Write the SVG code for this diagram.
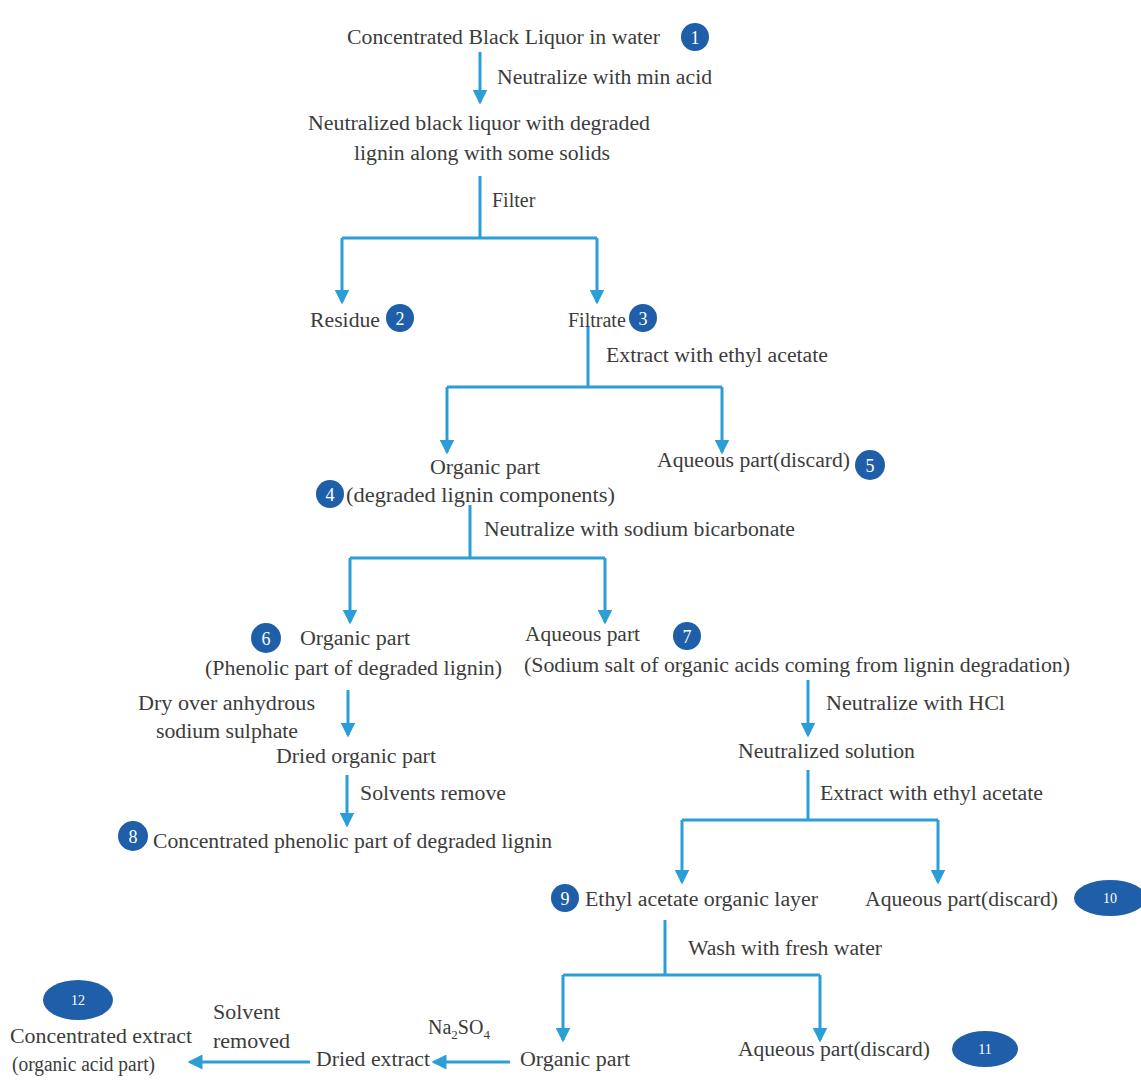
<svg xmlns="http://www.w3.org/2000/svg" width="1141" height="1080" viewBox="0 0 1141 1080">
<style>
text{font-family:"Liberation Serif","Times New Roman",serif;font-size:20px;fill:#3c3c3c}
.c{fill:#1f5ea8}
.n{fill:#ffffff;font-size:18px;text-anchor:middle}
.s{fill:#ffffff;font-size:14px;text-anchor:middle}
.l{fill:none;stroke:#2a9ed6;stroke-width:3}
</style>
<defs>
<marker id="ah" viewBox="0 0 12 12" refX="10" refY="6" markerWidth="5" markerHeight="5" orient="auto" markerUnits="strokeWidth">
<path d="M0,0 L12,6 L0,12 Z" fill="#2a9ed6"/>
</marker>
</defs>
<rect width="1141" height="1080" fill="#ffffff"/>
<g id="connectors">
<path class="l" d="M480,52 V102" marker-end="url(#ah)"/>
<path class="l" d="M480,176 V238 M342,238 H597"/>
<path class="l" d="M342,238 V302" marker-end="url(#ah)"/>
<path class="l" d="M597,238 V302" marker-end="url(#ah)"/>
<path class="l" d="M588,326 V387 M447,387 H722"/>
<path class="l" d="M447,387 V452" marker-end="url(#ah)"/>
<path class="l" d="M722,387 V452" marker-end="url(#ah)"/>
<path class="l" d="M470,505 V558 M350,558 H605"/>
<path class="l" d="M350,558 V622" marker-end="url(#ah)"/>
<path class="l" d="M605,558 V622" marker-end="url(#ah)"/>
<path class="l" d="M348,690 V735" marker-end="url(#ah)"/>
<path class="l" d="M347,775 V825" marker-end="url(#ah)"/>
<path class="l" d="M808,680 V735" marker-end="url(#ah)"/>
<path class="l" d="M808,770 V820 M682,820 H938"/>
<path class="l" d="M682,820 V882" marker-end="url(#ah)"/>
<path class="l" d="M938,820 V882" marker-end="url(#ah)"/>
<path class="l" d="M665,920 V975 M563,975 H820"/>
<path class="l" d="M563,975 V1040" marker-end="url(#ah)"/>
<path class="l" d="M820,975 V1040" marker-end="url(#ah)"/>
<path class="l" d="M510,1062 H434" marker-end="url(#ah)"/>
<path class="l" d="M310,1062 H190" marker-end="url(#ah)"/>
</g>
<g id="labels">
<text x="497" y="84" textLength="215" lengthAdjust="spacingAndGlyphs">Neutralize with min acid</text>
<text x="492" y="207">Filter</text>
<text x="606" y="362" textLength="222" lengthAdjust="spacingAndGlyphs">Extract with ethyl acetate</text>
<text x="484" y="536" textLength="311" lengthAdjust="spacingAndGlyphs">Neutralize with sodium bicarbonate</text>
<text x="138" y="710" textLength="177" lengthAdjust="spacingAndGlyphs">Dry over anhydrous</text>
<text x="156" y="738" textLength="142" lengthAdjust="spacingAndGlyphs">sodium sulphate</text>
<text x="360" y="800" textLength="146" lengthAdjust="spacingAndGlyphs">Solvents remove</text>
<text x="826" y="710" textLength="179" lengthAdjust="spacingAndGlyphs">Neutralize with HCl</text>
<text x="820" y="800" textLength="223" lengthAdjust="spacingAndGlyphs">Extract with ethyl acetate</text>
<text x="688" y="955" textLength="194" lengthAdjust="spacingAndGlyphs">Wash with fresh water</text>
<text x="428" y="1034">Na<tspan font-size="13" dy="5">2</tspan><tspan dy="-5">SO</tspan><tspan font-size="13" dy="5">4</tspan></text>
<text x="213" y="1019" textLength="67" lengthAdjust="spacingAndGlyphs">Solvent</text>
<text x="213" y="1048" textLength="77" lengthAdjust="spacingAndGlyphs">removed</text>
</g>
<g id="node1">
<text x="347" y="44" textLength="313" lengthAdjust="spacingAndGlyphs">Concentrated Black Liquor in water</text>
<circle class="c" cx="695" cy="37" r="14"/><text class="n" x="695" y="44">1</text>
</g>
<g id="node-neutralized">
<text x="308" y="130" textLength="342" lengthAdjust="spacingAndGlyphs">Neutralized black liquor with degraded</text>
<text x="354" y="160" textLength="256" lengthAdjust="spacingAndGlyphs">lignin along with some solids</text>
</g>
<g id="node2">
<text x="310" y="327" textLength="70" lengthAdjust="spacingAndGlyphs">Residue</text>
<circle class="c" cx="400" cy="318" r="14"/><text class="n" x="400" y="325">2</text>
</g>
<g id="node3">
<text x="568" y="327">Filtrate</text>
<circle class="c" cx="643" cy="318" r="14"/><text class="n" x="643" y="325">3</text>
</g>
<g id="node4">
<text x="430" y="474" textLength="110" lengthAdjust="spacingAndGlyphs">Organic part</text>
<circle class="c" cx="330" cy="494" r="14"/><text class="n" x="330" y="501">4</text>
<text x="346" y="502" textLength="269" lengthAdjust="spacingAndGlyphs">(degraded lignin components)</text>
</g>
<g id="node5">
<text x="657" y="467" textLength="193" lengthAdjust="spacingAndGlyphs">Aqueous part(discard)</text>
<circle class="c" cx="870" cy="465" r="15"/><text class="n" x="870" y="472">5</text>
</g>
<g id="node6">
<circle class="c" cx="266" cy="638" r="15"/><text class="n" x="266" y="645">6</text>
<text x="300" y="645" textLength="110" lengthAdjust="spacingAndGlyphs">Organic part</text>
<text x="205" y="675" textLength="297" lengthAdjust="spacingAndGlyphs">(Phenolic part of degraded lignin)</text>
</g>
<g id="node7">
<text x="525" y="641" textLength="115" lengthAdjust="spacingAndGlyphs">Aqueous part</text>
<circle class="c" cx="687" cy="636" r="14"/><text class="n" x="687" y="643">7</text>
<text x="524" y="672" textLength="546" lengthAdjust="spacingAndGlyphs">(Sodium salt of organic acids coming from lignin degradation)</text>
</g>
<g id="node-dried-organic">
<text x="276" y="763" textLength="160" lengthAdjust="spacingAndGlyphs">Dried organic part</text>
</g>
<g id="node8">
<circle class="c" cx="133" cy="836" r="15"/><text class="n" x="133" y="843">8</text>
<text x="153" y="848" textLength="399" lengthAdjust="spacingAndGlyphs">Concentrated phenolic part of degraded lignin</text>
</g>
<g id="node-neutralized-solution">
<text x="738" y="758" textLength="177" lengthAdjust="spacingAndGlyphs">Neutralized solution</text>
</g>
<g id="node9">
<circle class="c" cx="565" cy="898" r="14"/><text class="n" x="565" y="905">9</text>
<text x="585" y="906" textLength="233" lengthAdjust="spacingAndGlyphs">Ethyl acetate organic layer</text>
</g>
<g id="node10">
<text x="865" y="906" textLength="193" lengthAdjust="spacingAndGlyphs">Aqueous part(discard)</text>
<ellipse class="c" cx="1110" cy="898" rx="36" ry="18"/><text class="s" x="1110" y="903">10</text>
</g>
<g id="node11">
<text x="738" y="1056" textLength="192" lengthAdjust="spacingAndGlyphs">Aqueous part(discard)</text>
<ellipse class="c" cx="985" cy="1049" rx="33" ry="18"/><text class="s" x="985" y="1054">11</text>
</g>
<g id="node-organic-part">
<text x="520" y="1066" textLength="110" lengthAdjust="spacingAndGlyphs">Organic part</text>
</g>
<g id="node-dried-extract">
<text x="316" y="1066" textLength="114" lengthAdjust="spacingAndGlyphs">Dried extract</text>
</g>
<g id="node12">
<ellipse class="c" cx="78" cy="1000" rx="35" ry="20"/><text class="s" x="78" y="1005">12</text>
<text x="10" y="1043" textLength="182" lengthAdjust="spacingAndGlyphs">Concentrated extract</text>
<text x="12" y="1071" textLength="143" lengthAdjust="spacingAndGlyphs">(organic acid part)</text>
</g>
</svg>
